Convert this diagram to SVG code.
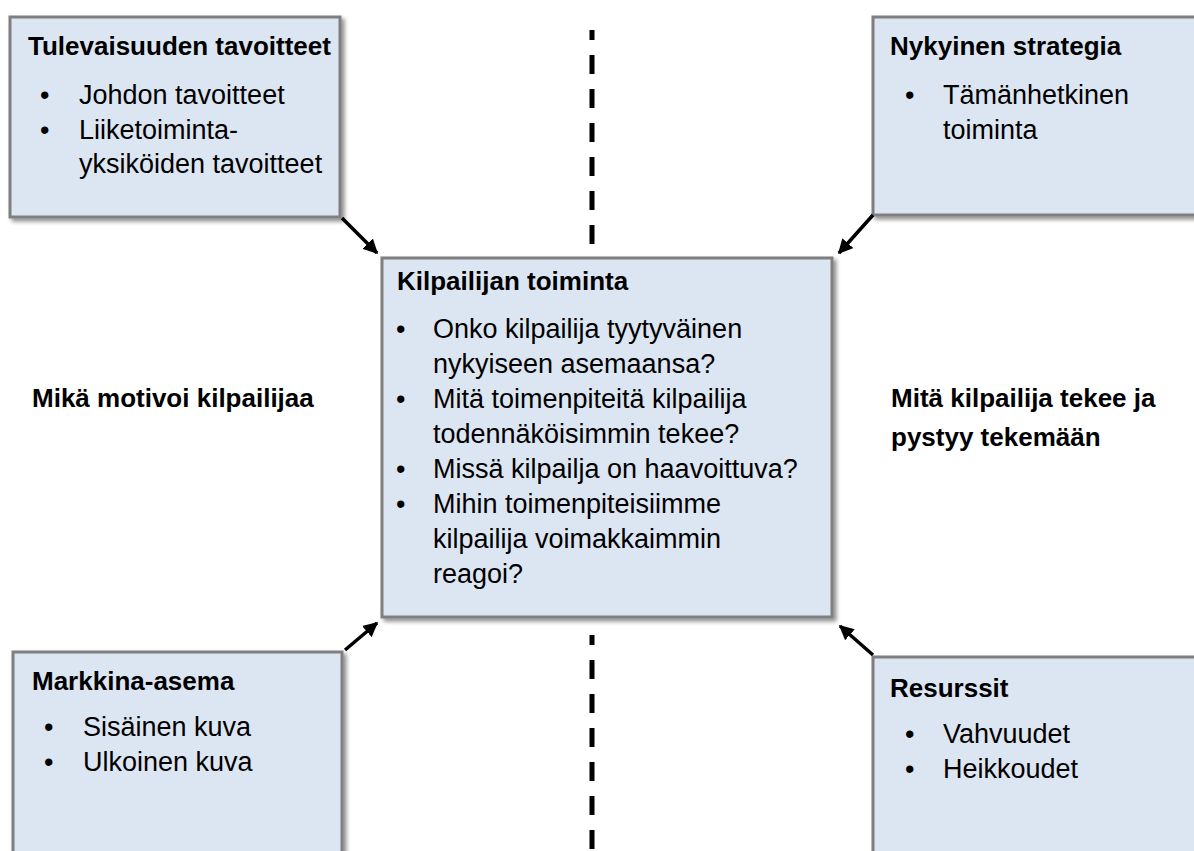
<svg xmlns="http://www.w3.org/2000/svg" width="1194" height="851" viewBox="0 0 1194 851">
<defs>
<filter id="sh" x="-10%" y="-10%" width="130%" height="130%">
<feGaussianBlur in="SourceAlpha" stdDeviation="2"/>
<feOffset dx="3" dy="3" result="b"/>
<feComponentTransfer><feFuncA type="linear" slope="0.45"/></feComponentTransfer>
<feMerge><feMergeNode/><feMergeNode in="SourceGraphic"/></feMerge>
</filter>
<marker id="ah" viewBox="0 0 10 10" refX="9" refY="5" markerWidth="4.2" markerHeight="4.2" orient="auto" markerUnits="strokeWidth">
<path d="M0,0 L10,5 L0,10 z" fill="#000"/>
</marker>
<style>
.box{fill:#dce6f2;stroke:#7f7f7f;stroke-width:3;filter:url(#sh)}
.t{font-family:"Liberation Sans",Arial,sans-serif;font-size:27px;fill:#000}
.b{font-weight:bold;font-size:26px}
.con{stroke:#000;stroke-width:3.5;fill:none;marker-end:url(#ah)}
.dash{stroke:#000;stroke-width:5;fill:none;stroke-dasharray:19 15;stroke-dashoffset:9}
</style>
</defs>
<rect width="1194" height="851" fill="#fff"/>
<g id="dividers">
<line class="dash" x1="592" y1="30" x2="592" y2="244"/>
<line class="dash" x1="592" y1="635" x2="592" y2="851"/>
</g>
<g id="node-tulevaisuus">
<rect class="box" x="10" y="17" width="330" height="200"/>
<text class="t b" x="28" y="55">Tulevaisuuden tavoitteet</text>
<text class="t" x="40" y="104">•</text><text class="t" x="79" y="104">Johdon tavoitteet</text>
<text class="t" x="40" y="139">•</text><text class="t" x="79" y="139">Liiketoiminta-</text>
<text class="t" x="79" y="173">yksiköiden tavoitteet</text>
</g>
<g id="node-strategia">
<rect class="box" x="873" y="17" width="340" height="198"/>
<text class="t b" x="890" y="55">Nykyinen strategia</text>
<text class="t" x="905" y="104">•</text><text class="t" x="943" y="104">Tämänhetkinen</text>
<text class="t" x="943" y="139">toiminta</text>
</g>
<g id="node-toiminta">
<rect class="box" x="382" y="258" width="450" height="359"/>
<text class="t b" x="397" y="290">Kilpailijan toiminta</text>
<text class="t" x="396" y="338">•</text><text class="t" x="433" y="338">Onko kilpailija tyytyväinen</text>
<text class="t" x="433" y="373">nykyiseen asemaansa?</text>
<text class="t" x="396" y="408">•</text><text class="t" x="433" y="408">Mitä toimenpiteitä kilpailija</text>
<text class="t" x="433" y="443">todennäköisimmin tekee?</text>
<text class="t" x="396" y="478">•</text><text class="t" x="433" y="478">Missä kilpailja on haavoittuva?</text>
<text class="t" x="396" y="513">•</text><text class="t" x="433" y="513">Mihin toimenpiteisiimme</text>
<text class="t" x="433" y="548">kilpailija voimakkaimmin</text>
<text class="t" x="433" y="583">reagoi?</text>
</g>
<g id="node-markkina">
<rect class="box" x="13" y="652" width="329" height="220"/>
<text class="t b" x="32" y="690">Markkina-asema</text>
<text class="t" x="44" y="736">•</text><text class="t" x="83" y="736">Sisäinen kuva</text>
<text class="t" x="44" y="771">•</text><text class="t" x="83" y="771">Ulkoinen kuva</text>
</g>
<g id="node-resurssit">
<rect class="box" x="873" y="657" width="340" height="220"/>
<text class="t b" x="890" y="697">Resurssit</text>
<text class="t" x="905" y="743">•</text><text class="t" x="943" y="743">Vahvuudet</text>
<text class="t" x="905" y="778">•</text><text class="t" x="943" y="778">Heikkoudet</text>
</g>
<g id="labels">
<text class="t b" x="32" y="407">Mikä motivoi kilpailijaa</text>
<text class="t b" x="891" y="407">Mitä kilpailija tekee ja</text>
<text class="t b" x="891" y="446">pystyy tekemään</text>
</g>
<g id="connectors">
<line class="con" x1="342" y1="218" x2="377" y2="253"/>
<line class="con" x1="873" y1="215" x2="839" y2="253"/>
<line class="con" x1="345" y1="650" x2="377" y2="623"/>
<line class="con" x1="873" y1="655" x2="840" y2="626"/>
</g>
</svg>
